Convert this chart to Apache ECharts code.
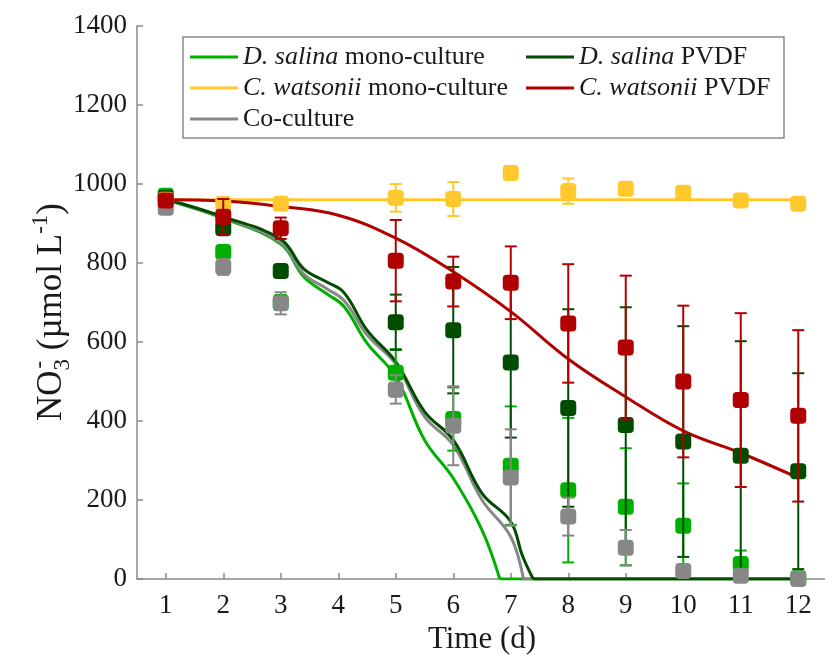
<!DOCTYPE html>
<html><head><meta charset="utf-8">
<script src="https://cdn.jsdelivr.net/npm/echarts@6/dist/echarts.min.js"></script>
<style>html,body{margin:0;padding:0;background:#fff}#c{width:825px;height:658px}</style>
</head><body><div id="c"></div>
<script>
// ---- data ----
const days = [1, 2, 3, 5, 6, 7, 8, 9, 10, 11, 12];
const xTicks = [1, 2, 3, 4, 5, 6, 7, 8, 9, 10, 11, 12];
const yTicks = [0, 200, 400, 600, 800, 1000, 1200, 1400];

const dsMonoMean = [970, 828, 700, 522, 405, 287, 225, 183, 135, 38, 2];
const dsMonoErr  = [8, 10, 19, 60, 80, 150, 183, 148, 107, 34, 2];
const dsPvdfMean = [965, 888, 780, 650, 630, 548, 433, 390, 348, 312, 273];
const dsPvdfErr  = [5, 10, 8, 70, 160, 190, 250, 298, 292, 290, 248];
const cwMonoMean = [960, 950, 950, 965, 962, 1028, 982, 988, 978, 958, 950];
const cwMonoErr  = [5, 8, 8, 35, 43, 8, 32, 10, 12, 8, 15];
const coMean     = [940, 790, 698, 480, 388, 257, 158, 79, 20, 8, 0];
const coErr      = [5, 20, 28, 36, 100, 122, 48, 45, 10, 6, 2];
const cwPvdfMean = [958, 917, 888, 806, 753, 750, 647, 586, 500, 453, 413];
const cwPvdfErr  = [5, 45, 27, 103, 63, 92, 150, 182, 192, 220, 217];

// fitted curves
const dsMonoFitX = [1, 2, 3, 3.4, 3.8, 4.1, 4.5, 5, 5.5, 6, 6.5, 6.81];
const dsMonoFitY = [960, 913, 848, 765, 722, 690, 597, 512, 352, 255, 124, 0];
const coFitX = [1, 2, 3, 3.4, 3.8, 4.1, 4.5, 5, 5.5, 6, 6.5, 7, 7.22];
const coFitY = [960, 915, 852, 772, 735, 705, 618, 544, 411, 339, 200, 107, 0];
const dsPvdfFitX = [1, 2, 3, 3.4, 3.8, 4.1, 4.5, 5, 5.5, 6, 6.5, 7, 7.2, 7.39];
const dsPvdfFitY = [962, 917, 860, 785, 752, 725, 630, 550, 424, 352, 217, 145, 60, 0];
const cwPvdfFitX = [1, 2, 3, 4, 5, 6, 7, 8, 9, 10, 11, 12];
const cwPvdfFitY = [960, 957, 943, 921, 863, 778, 677, 557, 461, 375, 319, 256];
const cwMonoFitX = [1, 12];
const cwMonoFitY = [960, 960];

const names = ['D. salina mono-culture', 'D. salina PVDF', 'C. watsonii mono-culture', 'C. watsonii PVDF', 'Co-culture'];
const colors = {ds: '#00b000', dsp: '#004d00', cw: '#ffc82d', cwp: '#b00000', co: '#878787'};

const FONT = '"Liberation Serif", "Times New Roman", serif';
const zip = (xs, ys) => xs.map((x, i) => [x, ys[i]]);

function curve(name, xs, ys, color, z) {
  return {name: name, type: 'line', data: zip(xs, ys), smooth: 0.4, showSymbol: false, symbol: 'none',
    lineStyle: {color: color, width: 3}, itemStyle: {color: color}, z: z, silent: true, animation: false};
}
function zeroTail(name, x0, color, z) {
  return {name: name, type: 'line', data: [[x0, 0], [12, 0]], showSymbol: false, symbol: 'none',
    lineStyle: {color: color, width: 3}, z: z, silent: true, animation: false};
}
function errBars(name, means, errs, color, z) {
  return {name: name, type: 'custom', z: z, animation: false, silent: true,
    data: days.map((d, i) => [d, means[i], errs[i]]),
    encode: {x: 0, y: 1},
    renderItem: function (params, api) {
      const x = api.value(0), m = api.value(1), e = api.value(2);
      const top = api.coord([x, m + e]);
      const bot = api.coord([x, Math.max(0, m - e)]);
      const hw = 6;
      const st = {stroke: color, lineWidth: 2};
      return {type: 'group', children: [
        {type: 'line', shape: {x1: top[0], y1: top[1], x2: bot[0], y2: bot[1]}, style: st},
        {type: 'line', shape: {x1: top[0] - hw, y1: top[1], x2: top[0] + hw, y2: top[1]}, style: st},
        {type: 'line', shape: {x1: bot[0] - hw, y1: bot[1], x2: bot[0] + hw, y2: bot[1]}, style: st}
      ]};
    }};
}
function markers(name, means, color, z) {
  return {name: name, type: 'scatter', data: zip(days, means), symbol: 'roundRect', symbolSize: 16,
    itemStyle: {color: color, opacity: 1}, z: z, animation: false, silent: true};
}

const italicFmt = function (n) {
  if (n.indexOf('D. salina') === 0) return '{i|D. salina}' + n.slice(9);
  if (n.indexOf('C. watsonii') === 0) return '{i|C. watsonii}' + n.slice(11);
  return n;
};
const legText = {fontFamily: FONT, fontSize: 26, color: '#1a1a1a', lineHeight: 28,
  rich: {i: {fontFamily: FONT, fontSize: 26, fontStyle: 'italic', color: '#1a1a1a', lineHeight: 28}}};

// y-axis title pieces
function tw(t, size) {
  const c = document.createElement('canvas').getContext('2d');
  c.font = size + 'px "Liberation Serif"';
  return c.measureText(t).width;
}
const YF = 35, YS = 23;
const p1 = 'NO', p2 = ' (\u00b5mol L', p3 = ')';
const w1 = tw(p1, YF), w3 = tw('3', YS), w2 = tw(p2, YF), wm1 = tw('-1', YS);
const yPart = (t, s, x, base) => ({type: 'text', x: x, y: base + 0.2 * s,
  style: {text: t, font: s + 'px ' + FONT, fill: '#1a1a1a', verticalAlign: 'bottom', align: 'left'}});
const yTitleLen = w1 + w3 + w2 + wm1 + tw(p3, YF);

const chart = echarts.init(document.getElementById('c'), null, {renderer: 'canvas'});
chart.setOption({
  animation: false,
  backgroundColor: '#ffffff',
  grid: {left: 137, right: -2, top: 26, bottom: 79, containLabel: false, outerBoundsMode: 'none'},
  xAxis: {type: 'value', min: 0.5, max: 12.5,
    name: 'Time (d)', nameLocation: 'middle', nameGap: 45,
    nameTextStyle: {fontFamily: FONT, fontSize: 31, color: '#1a1a1a'},
    axisLine: {show: true, lineStyle: {color: '#8a8a8a', width: 1.5}},
    axisTick: {show: true, inside: true, length: 6, customValues: xTicks, lineStyle: {color: '#8a8a8a', width: 1.5}},
    axisLabel: {customValues: xTicks, fontFamily: FONT, fontSize: 27, color: '#1a1a1a', margin: 13},
    splitLine: {show: false}},
  yAxis: {type: 'value', min: 0, max: 1400, interval: 200,
    axisLine: {show: true, lineStyle: {color: '#8a8a8a', width: 1.5}},
    axisTick: {show: true, inside: true, length: 6, lineStyle: {color: '#8a8a8a', width: 1.5}},
    axisLabel: {fontFamily: FONT, fontSize: 27, color: '#1a1a1a', margin: 10,
      formatter: function (v) { return yTicks.indexOf(v) >= 0 ? String(v) : ''; }},
    splitLine: {show: false}},
  legend: [
    {orient: 'vertical', left: 190, top: 43, padding: 0, itemWidth: 48, itemHeight: 3, itemGap: 3, icon: 'rect',
      data: [names[0], names[2], names[4]], formatter: italicFmt, textStyle: legText, selectedMode: false},
    {orient: 'vertical', left: 526, top: 43, padding: 0, itemWidth: 48, itemHeight: 3, itemGap: 3, icon: 'rect',
      data: [names[1], names[3]], formatter: italicFmt, textStyle: legText, selectedMode: false}
  ],
  graphic: [
    {type: 'rect', shape: {x: 183, y: 37, width: 601, height: 101},
      style: {fill: 'rgba(255,255,255,0)', stroke: '#8a8a8a', lineWidth: 1.5}, z: 100},
    {type: 'group', x: 62, y: 312 + yTitleLen / 2, rotation: Math.PI / 2, children: [
      yPart(p1, YF, 0, 0),
      yPart('3', YS, w1, 8),
      yPart('-', YS, w1 + 2, -15),
      yPart(p2, YF, w1 + w3, 0),
      yPart('-1', YS, w1 + w3 + w2, -14),
      yPart(p3, YF, w1 + w3 + w2 + wm1, 0)
    ]}
  ],
  series: [
    curve(names[0], dsMonoFitX, dsMonoFitY, colors.ds, 2),
    zeroTail('t0', dsMonoFitX[dsMonoFitX.length - 1], colors.ds, 2),
    curve(names[4], coFitX, coFitY, colors.co, 2),
    zeroTail('t4', coFitX[coFitX.length - 1], colors.co, 2),
    curve(names[1], dsPvdfFitX, dsPvdfFitY, colors.dsp, 2),
    zeroTail('t1', dsPvdfFitX[dsPvdfFitX.length - 1], colors.dsp, 2),
    curve(names[2], cwMonoFitX, cwMonoFitY, colors.cw, 2),
    curve(names[3], cwPvdfFitX, cwPvdfFitY, colors.cwp, 2),
    errBars('e0', dsMonoMean, dsMonoErr, colors.ds, 3),
    markers('m0', dsMonoMean, colors.ds, 3),
    errBars('e1', dsPvdfMean, dsPvdfErr, colors.dsp, 4),
    markers('m1', dsPvdfMean, colors.dsp, 4),
    errBars('e2', cwMonoMean, cwMonoErr, colors.cw, 5),
    markers('m2', cwMonoMean, colors.cw, 5),
    errBars('e4', coMean, coErr, colors.co, 6),
    markers('m4', coMean, colors.co, 6),
    errBars('e3', cwPvdfMean, cwPvdfErr, colors.cwp, 7),
    markers('m3', cwPvdfMean, colors.cwp, 7)
  ]
});
</script></body></html>
